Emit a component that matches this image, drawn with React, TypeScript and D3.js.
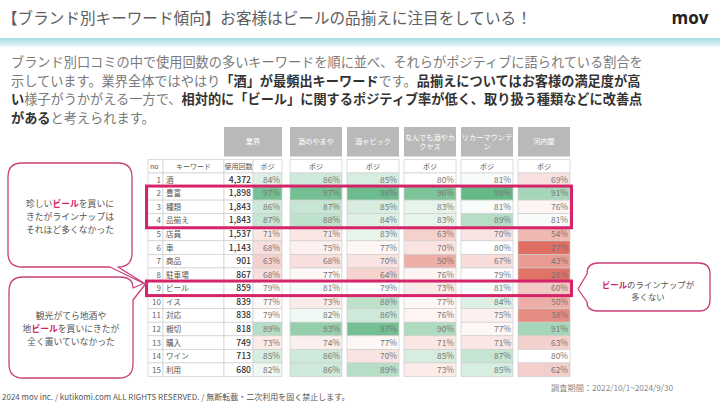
import React from "react";
import * as d3 from "d3";

const keywords = ["酒", "豊富", "種類", "品揃え", "店員", "車", "商品", "駐車場", "ビール", "イス", "対応", "親切", "購入", "ワイン", "利用"];
const counts = [4372, 1898, 1843, 1843, 1537, 1143, 901, 867, 859, 839, 838, 818, 749, 713, 680];
const industryPos = [84, 97, 86, 87, 71, 68, 63, 68, 79, 77, 79, 89, 73, 85, 82];
const brands = ["酒のやまや", "酒ゃビック", "なんでも酒やカクヤス", "リカーマウンテン", "河内屋"];
const brandLabelLines = [["酒のやまや"], ["酒ゃビック"], ["なんでも酒やカ", "クヤス"], ["リカーマウンテ", "ン"], ["河内屋"]];
const yamayaPos = [86, 97, 87, 88, 71, 75, 68, 77, 81, 73, 82, 93, 74, 86, 86];
const bicPos = [85, 98, 85, 84, 83, 77, 70, 64, 79, 88, 86, 97, 77, 70, 89];
const kakuyasuPos = [80, 96, 83, 83, 63, 70, 50, 76, 73, 77, 76, 90, 71, 85, 73];
const liquorMtPos = [81, 99, 81, 89, 70, 80, 67, 79, 81, 84, 75, 77, 71, 87, 85];
const kawachiyaPos = [69, 91, 76, 81, 54, 27, 43, 28, 60, 50, 38, 91, 63, 80, 62];
const brandPos = [yamayaPos, bicPos, kakuyasuPos, liquorMtPos, kawachiyaPos];
const highlightGroups = [[1, 3], [8, 8]];

const FONT = "'Noto Sans CJK JP', 'Noto Sans', sans-serif";
const PINK = "#d6246a";
const BALLOON = "#c94079";

type Seg = { t: string; b?: boolean };
const paragraph: Seg[][] = [
  [{ t: "ブランド別口コミの中で使用回数の多いキーワードを順に並べ、それらがポジティブに語られている割合を" }],
  [
    { t: "示しています。業界全体ではやはり" },
    { t: "「酒」が最頻出キーワード", b: true },
    { t: "です。" },
    { t: "品揃えについてはお客様の満足度が高", b: true },
  ],
  [
    { t: "い", b: true },
    { t: "様子がうかがえる一方で、" },
    { t: "相対的に「ビール」に関するポジティブ率が低く、取り扱う種類などに改善点", b: true },
  ],
  [{ t: "がある", b: true }, { t: "と考えられます。" }],
];

const balloon1: Seg[][] = [
  [{ t: "珍しい" }, { t: "ビール", b: true }, { t: "を買いに" }],
  [{ t: "きたがラインナップは" }],
  [{ t: "それほど多くなかった" }],
];
const balloon2: Seg[][] = [
  [{ t: "観光がてら地酒や" }],
  [{ t: "地" }, { t: "ビール", b: true }, { t: "を買いにきたが" }],
  [{ t: "全く置いていなかった" }],
];
const balloon3: Seg[][] = [
  [{ t: "ビール", b: true }, { t: "のラインナップが" }],
  [{ t: "多くない" }],
];

export default function App() {
  const W = 720;
  const H = 405;
  const rowY = d3.scaleBand<number>().domain(d3.range(keywords.length)).range([173, 376.5]);
  const bh = rowY.bandwidth();
  const headerTop = 159.5;
  const boxTop = 127;
  const boxBottom = 156.5;
  const bx = d3.scaleBand<string>().domain(brands).range([290, 570]).paddingInner(5 / 57);
  const bw = bx.bandwidth();
  const color = d3
    .scaleLinear<string>()
    .domain([25, 80, 100])
    .range(["#de6a5d", "#ffffff", "#5cb580"])
    .interpolate(d3.interpolateRgb);
  const fmt = d3.format(",");

  const cNo = [148, 163];
  const cKw = [163, 224];
  const cCnt = [224, 253];
  const cPos = [253, 282];
  const cellStroke = "#cfcfcf";

  const renderSegs = (segs: Seg[], bodyColor: string, boldColor: string) =>
    segs.map((s, i) => (
      <tspan key={i} fontWeight={s.b ? 700 : 400} fill={s.b ? boldColor : bodyColor}>
        {s.t}
      </tspan>
    ));

  return (
    <svg
      width={W}
      height={H}
      viewBox={`0 0 ${W} ${H}`}
      style={{ position: "absolute", left: 0, top: 0, background: "#fff" }}
      fontFamily={FONT}
    >
      <defs>
        <linearGradient id="band" x1="0" y1="0" x2="0" y2="1">
          <stop offset="0" stopColor="#a6dbe3" />
          <stop offset="1" stopColor="#eef9fb" />
        </linearGradient>
      </defs>
      <rect x={0} y={0} width={W} height={H} fill="#fff" />

      <text x={2} y={24} fontSize={15.6} fill="#5e5e5e">
        【ブランド別キーワード傾向】お客様はビールの品揃えに注目をしている！
      </text>
      <text x={690} y={24} fontSize={17} fontWeight={700} fill="#222" textAnchor="middle" fontFamily="'Open Sans', sans-serif">
        mov
      </text>
      <rect x={0} y={38} width={W} height={9} fill="url(#band)" />

      {paragraph.map((line, i) => (
        <text key={i} x={11} y={67 + i * 18.7} fontSize={13.2}>
          {renderSegs(line, "#7a7a7a", "#333")}
        </text>
      ))}

      <rect x={cCnt[0]} y={boxTop} width={cPos[1] - cCnt[0]} height={boxBottom - boxTop} fill="#b9b9b9" />
      <text x={(cCnt[0] + cPos[1]) / 2} y={(boxTop + boxBottom) / 2 + 2.5} fontSize={7.2} fill="#fff" textAnchor="middle">
        業界
      </text>
      {brands.map((b, i) => {
        const x = bx(b)!;
        const lines = brandLabelLines[i];
        const cy = (boxTop + boxBottom) / 2;
        return (
          <g key={b}>
            <rect x={x} y={boxTop} width={bw} height={boxBottom - boxTop} fill="#b9b9b9" />
            {lines.map((l, j) => (
              <text
                key={j}
                x={x + bw / 2}
                y={cy + 2.5 + (j - (lines.length - 1) / 2) * 9}
                fontSize={7.2}
                fill="#fff"
                textAnchor="middle"
              >
                {l}
              </text>
            ))}
          </g>
        );
      })}

      {[cNo, cKw, cCnt, cPos].map((c, i) => (
        <rect key={i} x={c[0]} y={headerTop} width={c[1] - c[0]} height={173 - headerTop} fill="#fff" stroke={cellStroke} strokeWidth={0.7} />
      ))}
      <text x={150} y={169} fontSize={7} fill="#555">no</text>
      <text x={(cKw[0] + cKw[1]) / 2} y={169} fontSize={7} fill="#555" textAnchor="middle">キーワード</text>
      <text x={(cCnt[0] + cCnt[1]) / 2} y={169} fontSize={7} fill="#555" textAnchor="middle">使用回数</text>
      <text x={(cPos[0] + cPos[1]) / 2} y={169} fontSize={7} fill="#555" textAnchor="middle">ポジ</text>

      {keywords.map((k, i) => {
        const y = rowY(i)!;
        const ty = y + bh / 2 + 3;
        return (
          <g key={k}>
            <rect x={cNo[0]} y={y} width={cNo[1] - cNo[0]} height={bh} fill="#fff" stroke={cellStroke} strokeWidth={0.7} />
            <rect x={cKw[0]} y={y} width={cKw[1] - cKw[0]} height={bh} fill="#fff" stroke={cellStroke} strokeWidth={0.7} />
            <rect x={cCnt[0]} y={y} width={cCnt[1] - cCnt[0]} height={bh} fill="#fff" stroke={cellStroke} strokeWidth={0.7} />
            <rect x={cPos[0]} y={y} width={cPos[1] - cPos[0]} height={bh} fill={color(industryPos[i])} stroke={cellStroke} strokeWidth={0.7} />
            <text x={cNo[1] - 2} y={ty} fontSize={8} fill="#666" textAnchor="end">{i + 1}</text>
            <text x={cKw[0] + 3} y={ty} fontSize={7.6} fill="#555">{k}</text>
            <text x={cCnt[1] - 2} y={ty} fontSize={8.6} fill="#333" fontWeight={500} textAnchor="end">{fmt(counts[i])}</text>
            <text x={cPos[1] - 2} y={ty} fontSize={8.4} fill="#777" textAnchor="end">{industryPos[i]}%</text>
          </g>
        );
      })}

      {brands.map((b, bi) => {
        const x = bx(b)!;
        return (
          <g key={b}>
            <rect x={x} y={headerTop} width={bw} height={173 - headerTop} fill="#fff" stroke={cellStroke} strokeWidth={0.7} />
            <text x={x + bw / 2} y={169} fontSize={7} fill="#555" textAnchor="middle">ポジ</text>
            {brandPos[bi].map((v, i) => {
              const y = rowY(i)!;
              return (
                <g key={i}>
                  <rect x={x} y={y} width={bw} height={bh} fill={color(v)} stroke={cellStroke} strokeWidth={0.7} />
                  <text x={x + bw - 2} y={y + bh / 2 + 3} fontSize={8.4} fill="#777" textAnchor="end">{v}%</text>
                </g>
              );
            })}
          </g>
        );
      })}

      {highlightGroups.map(([a, z], i) => (
        <rect
          key={i}
          x={146.5}
          y={rowY(a)! - 0.5}
          width={571.5 - 146.5}
          height={rowY(z)! + bh - rowY(a)! + 1}
          fill="none"
          stroke={PINK}
          strokeWidth={3}
        />
      ))}

      <path
        d="M22,163 H118 Q132,163 132,177 V253 Q132,267 118,267 L147,285 L110,267 H22 Q8,267 8,253 V177 Q8,163 22,163 Z"
        fill="#fff"
        stroke={BALLOON}
        strokeWidth={1.3}
        strokeLinejoin="round"
      />
      {balloon1.map((line, i) => (
        <text key={i} x={70} y={207 + i * 12.8} fontSize={8.8} textAnchor="middle">
          {renderSegs(line, "#555", PINK)}
        </text>
      ))}
      <path
        d="M23,277 H120 Q133,277 133,288 L147,282 L133,300 V364 Q133,378 119,378 H23 Q9,378 9,364 V291 Q9,277 23,277 Z"
        fill="#fff"
        stroke={BALLOON}
        strokeWidth={1.3}
        strokeLinejoin="round"
      />
      {balloon2.map((line, i) => (
        <text key={i} x={71} y={319 + i * 12.8} fontSize={8.8} textAnchor="middle">
          {renderSegs(line, "#555", PINK)}
        </text>
      ))}
      <path
        d="M598,263 H699 Q710,263 710,274 V300 Q710,311 699,311 H598 Q587,311 587,302 L578,289 L587,274 Q587,263 598,263 Z"
        fill="#fff"
        stroke={BALLOON}
        strokeWidth={1.3}
        strokeLinejoin="round"
      />
      {balloon3.map((line, i) => (
        <text key={i} x={648} y={288 + i * 11.5} fontSize={8.4} textAnchor="middle">
          {renderSegs(line, "#555", PINK)}
        </text>
      ))}

      <text x={673} y={391} fontSize={8.2} fill="#888" textAnchor="end">
        調査期間：2022/10/1~2024/9/30
      </text>
      <text x={2} y={400} fontSize={8} fill="#555">
        2024 mov inc. / kutikomi.com ALL RIGHTS RESERVED. / 無断転載・二次利用を固く禁止します。
      </text>
    </svg>
  );
}
